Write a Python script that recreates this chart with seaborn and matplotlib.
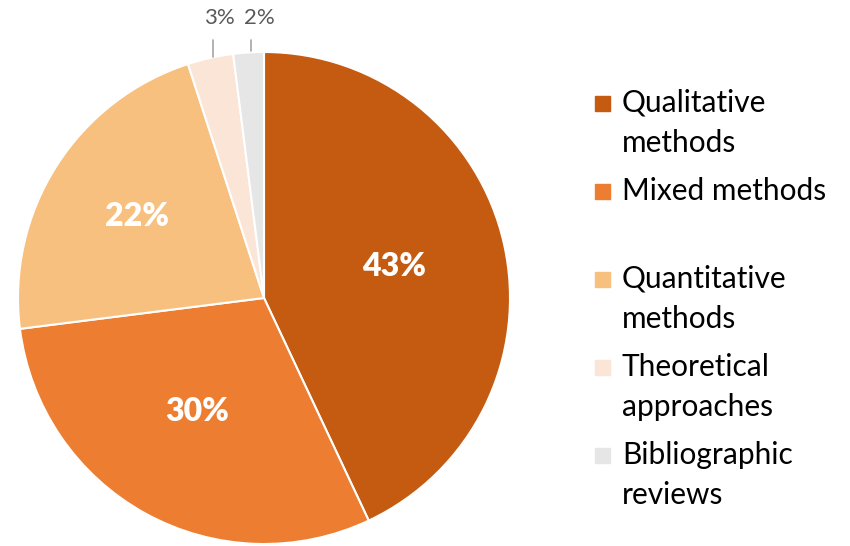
import numpy as np
import matplotlib.pyplot as plt
import seaborn as sns
from matplotlib.patches import Rectangle

# data
categorias = ["Qualitative\nmethods", "Mixed methods", "Quantitative\nmethods",
              "Theoretical\napproaches", "Bibliographic\nreviews"]
porcentajes = [43, 30, 22, 3, 2]
colores = ["#C55A11", "#ED7D31", "#F8C07F", "#FBE5D6", "#E7E6E6"]

sns.set_theme(style="white")
plt.rcParams['font.family'] = ['Lato', 'DejaVu Sans']

fig = plt.figure(figsize=(8.5, 5.46), dpi=100)
W, H = 850, 546
cx, cy, r = 264, 298, 246
ax = fig.add_axes([(cx - r) / W, (H - cy - r) / H, 2 * r / W, 2 * r / H])

wedges, _ = ax.pie(porcentajes, colors=colores, startangle=90, counterclock=False,
                   radius=1, wedgeprops=dict(edgecolor="white", linewidth=1.5))
ax.set_xlim(-1, 1)
ax.set_ylim(-1, 1)
ax.set_aspect("equal")
ax.axis("off")

# etiquetas de porcentaje
dist_dentro = [0.55, 0.54, 0.60]
for i, (w, p) in enumerate(zip(wedges, porcentajes)):
    ang = np.deg2rad((w.theta1 + w.theta2) / 2)
    if p >= 10:
        d = dist_dentro[i]
        ax.text(d * np.cos(ang) - 0.01, d * np.sin(ang) + 0.01, f"{p}%", ha="center",
                va="center", color="white", fontsize=23, fontweight="heavy")
    else:
        x0 = np.cos(ang)
        ax.plot([x0 + 0.01, x0 + 0.01], [np.sin(ang) + 0.005, 1.05], color="#A6A6A6", lw=1.2,
                clip_on=False)
        ax.text(x0 + 0.035 if p == 3 else x0 + 0.045, 1.14, f"{p}%", ha="center", va="center",
                color="#595959", fontsize=16, clip_on=False)

# leyenda
y0, paso = 103, 88
for i, (lab, c) in enumerate(zip(categorias, colores)):
    y = y0 + i * paso
    fig.patches.append(Rectangle(((595) / W, (H - y - 8) / H), 15 / W, 15 / H,
                                 transform=fig.transFigure, color=c))
    for j, linea in enumerate(lab.split("\n")):
        fig.text(622 / W, (H - y - j * 40) / H, linea, ha="left", va="center",
                 fontsize=21.5, color="black")

fig.savefig("out.png", dpi=100)
